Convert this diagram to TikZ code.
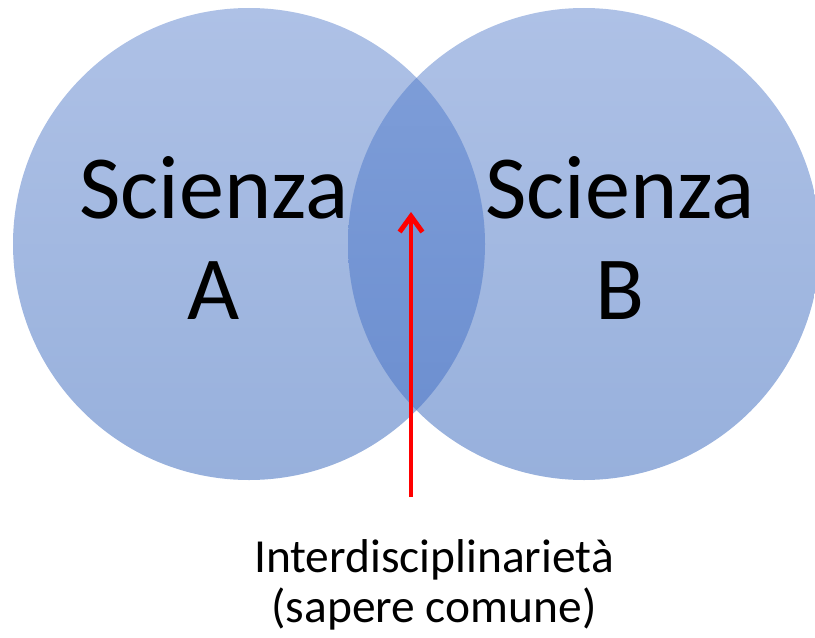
\documentclass[tikz,border=0pt]{standalone}
\usepackage{fontspec}
\setmainfont{Carlito}
\usetikzlibrary{arrows.meta}
\definecolor{vennlight}{HTML}{AEC1E6}
\definecolor{venndark}{HTML}{97B0DC}
\definecolor{lenslight}{HTML}{809FD9}
\definecolor{lensdark}{HTML}{6A8DCF}
\definecolor{arrowred}{HTML}{FF0000}

\begin{document}
\begin{tikzpicture}[
  x=0.02cm, y=0.02cm,
  setfill/.style={top color=vennlight, bottom color=venndark, draw=none},
  lensfill/.style={top color=lenslight, bottom color=lensdark, draw=none},
  bigtext/.style={font=\fontsize{51.3}{57.3}\selectfont, align=center, anchor=base},
  smalltext/.style={font=\fontsize{27}{28.4}\selectfont, align=center, anchor=base}
]
  \useasboundingbox (0,0) rectangle (815,637);

  % the two sets
  \shade[setfill] (249,393) circle[radius=236];
  \shade[setfill] (584,393) circle[radius=236];
  \begin{scope}
    \clip (249,393) circle[radius=236];
    \shade[lensfill] (584,393) circle[radius=236];
  \end{scope}

  \node[bigtext] (sciA) at (214,318) {Scienza\\A};
  \node[bigtext] (sciB) at (620,318) {Scienza\\B};

  \node[smalltext] (inter) at (434,15) {Interdisciplinarietà\\(sapere comune)};

  \coordinate (tip) at (411,425);
  \coordinate (tail) at (411,140);
  \draw[arrowred, line width=2.8pt, -{Straight Barb[length=9pt,width=13pt]}] (tail) -- (tip);
\end{tikzpicture}
\end{document}
